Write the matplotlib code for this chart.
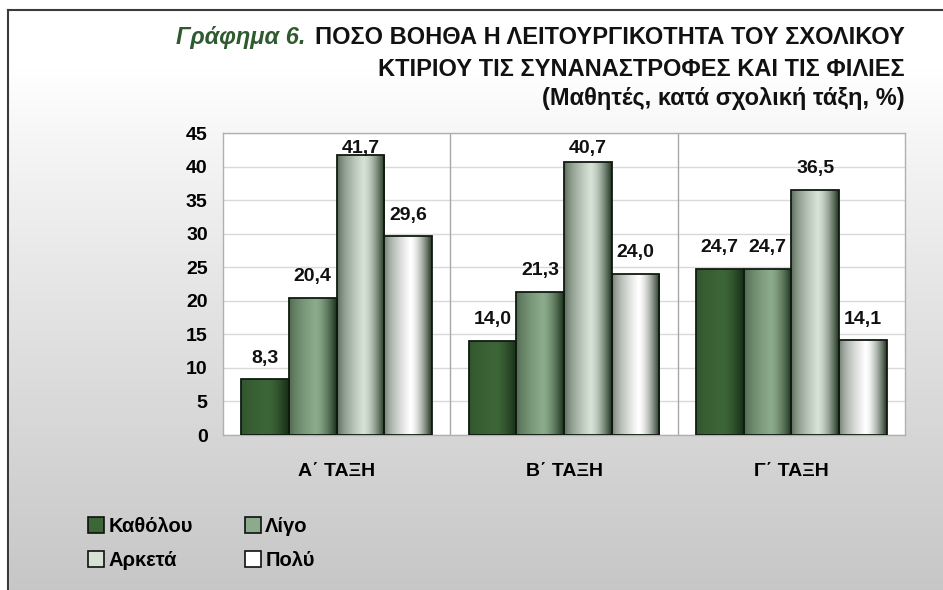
import numpy as np
import matplotlib
matplotlib.use("Agg")
import matplotlib.pyplot as plt
from matplotlib.patches import Patch
from matplotlib.lines import Line2D
from matplotlib.colors import to_rgb

# ---------------- data ----------------
categories = ["Α΄ ΤΑΞΗ", "Β΄ ΤΑΞΗ", "Γ΄ ΤΑΞΗ"]
series_names = ["Καθόλου", "Λίγο", "Αρκετά", "Πολύ"]
katholou = [8.3, 14.0, 24.7]
ligo = [20.4, 21.3, 24.7]
arketa = [41.7, 40.7, 36.5]
poly = [29.6, 24.0, 14.1]
series_values = [katholou, ligo, arketa, poly]
yticks = [0, 5, 10, 15, 20, 25, 30, 35, 40, 45]

title_prefix = "Γράφημα 6."
title_line1 = "ΠΟΣΟ ΒΟΗΘΑ Η ΛΕΙΤΟΥΡΓΙΚΟΤΗΤΑ ΤΟΥ ΣΧΟΛΙΚΟΥ"
title_line2 = "ΚΤΙΡΙΟΥ ΤΙΣ ΣΥΝΑΝΑΣΤΡΟΦΕΣ ΚΑΙ ΤΙΣ ΦΙΛΙΕΣ"
title_line3 = "(Μαθητές, κατά σχολική τάξη, %)"

# ---------------- style ----------------
base_colors = ["#3d6638", "#8cab8c", "#d6e2d6", "#ffffff"]
left_dark = [0.7, 0.45, 0.3, 0.35]
dark_edge = "#142814"
FONT = ["Liberation Sans", "DejaVu Sans"]
plt.rcParams["font.family"] = FONT

W, H = 943, 590
fig = plt.figure(figsize=(W / 100, H / 100), dpi=100)

# background gradient
bg = fig.add_axes([0, 0, 1, 1], zorder=-10)
yy = np.linspace(0, 1, 300)[:, None]
shade = 1.0 - 0.22 * np.clip((yy - 0.12) / 0.88, 0, 1) ** 0.9
img = np.repeat(shade, 10, axis=1)
bg.imshow(np.dstack([img, img, img]), aspect="auto", extent=[0, 1, 0, 1],
          origin="upper")
bg.set_xlim(0, 1); bg.set_ylim(0, 1); bg.axis("off")
fx = 8 / W
fy = 1 - 10 / H
bg.add_patch(plt.Rectangle((0, fy), 1, 1 - fy, color="white", zorder=2))
bg.add_patch(plt.Rectangle((0, 0), fx, 1, color="white", zorder=2))
bg.add_line(Line2D([fx, 1], [fy, fy], color="#3a3a3a", lw=1.5, zorder=3))
bg.add_line(Line2D([fx, fx], [0, fy], color="#3a3a3a", lw=1.5, zorder=3))

# main axes
ax = fig.add_axes([223 / W, 1 - 435 / H, (905 - 223) / W, (435 - 133) / H])
ax.set_facecolor("white")
n_series = len(series_values)
bar_w = 0.21
x = np.arange(len(categories))


def grad_row(base, left, n=200):
    t = np.linspace(0, 1, n)
    peak = 0.55
    f = np.where(t < peak, left + (1 - left) * (t / peak) ** 0.6,
                 1 - ((t - peak) / (1 - peak)) ** 1.6 * 0.95)
    b = np.array(to_rgb(base))
    d = np.array(to_rgb(dark_edge))
    return d[None, :] + (b - d)[None, :] * f[:, None]


for i, vals in enumerate(series_values):
    offs = (i - (n_series - 1) / 2) * bar_w
    row = grad_row(base_colors[i], left_dark[i])[None, :, :]
    bars = ax.bar(x + offs, vals, width=bar_w, facecolor="none",
                  edgecolor="#101a10", linewidth=1.3, zorder=4)
    for rect, v in zip(bars, vals):
        x0 = rect.get_x()
        im = ax.imshow(row, aspect="auto", extent=[x0, x0 + bar_w, 0, v],
                       zorder=3, interpolation="bilinear")
        im.set_clip_path(rect)
        ly = min(v + 2.5, 42.0)
        ax.text(rect.get_x() + bar_w / 2, ly, f"{v:.1f}".replace(".", ","),
                ha="center", va="baseline", fontsize=14, fontweight="bold",
                color="#111111", zorder=6)

ax.set_xlim(-0.5, len(categories) - 0.5)
ax.set_ylim(0, 45)
ax.set_yticks(yticks)
ax.set_yticklabels([str(t) for t in yticks], fontsize=14, fontweight="bold")
ax.set_xticks(x)
ax.set_xticklabels(categories, fontsize=14, fontweight="bold")
ax.tick_params(axis="both", length=0)
ax.tick_params(axis="y", pad=11)
ax.tick_params(axis="x", pad=20)
ax.grid(axis="y", color="#d9d9d9", lw=1, zorder=1)
ax.set_axisbelow(True)
for xs in x[:-1] + 0.5:
    ax.axvline(xs, color="#a8a8a8", lw=1, zorder=2)
for s in ax.spines.values():
    s.set_color("#b0b0b0")
    s.set_linewidth(1)

# title
TS = 17
t1 = fig.text(905 / W, 1 - 44 / H, title_line1, ha="right", va="baseline",
              fontsize=TS, fontweight="bold", color="#111111")
fig.canvas.draw()
r = fig.canvas.get_renderer()
bb = t1.get_window_extent(r)
fig.text(bb.x0 / W - 10 / W, 1 - 44 / H, title_prefix, ha="right",
         va="baseline", fontsize=TS, fontweight="bold", style="italic",
         color="#2f5a30")
fig.text(905 / W, 1 - 76 / H, title_line2, ha="right", va="baseline",
         fontsize=TS, fontweight="bold", color="#111111")
fig.text(905 / W, 1 - 105 / H, title_line3, ha="right", va="baseline",
         fontsize=TS, fontweight="bold", color="#111111")

# legend
handles = [Patch(facecolor=grad_row(c, l)[110], edgecolor="#101010", lw=1.2)
           for c, l in zip(base_colors, left_dark)]
order = [0, 2, 1, 3]
fig.legend([handles[k] for k in order], [series_names[k] for k in order],
           ncol=2, loc="upper left", bbox_to_anchor=(88 / W, 1 - 517 / H),
           frameon=False, prop={"weight": "bold", "size": 14.5},
           handlelength=0.8, handleheight=0.8, handletextpad=0.2,
           columnspacing=2.6, labelspacing=0.75, borderpad=0,
           borderaxespad=0)

fig.savefig("out.png", dpi=100)
